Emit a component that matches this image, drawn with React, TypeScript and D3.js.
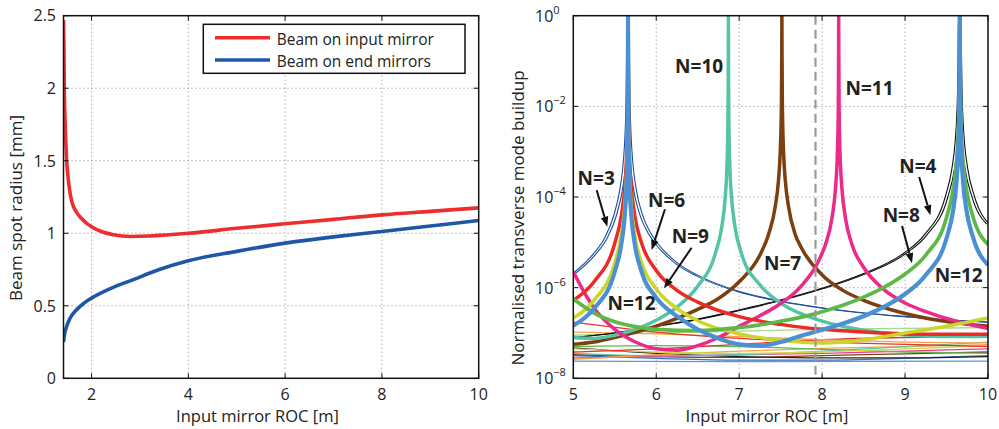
import React from 'react';
import * as d3 from 'd3';

type P = [number, number];

// ---------- Left panel data (ROC [m], radius [mm]) ----------
const INPUT_MIRROR: P[] = [
  [1.42, 2.47], [1.43, 2.25], [1.436, 2.0], [1.45, 1.8], [1.465, 1.65], [1.485, 1.5],
  [1.51, 1.4], [1.545, 1.3], [1.59, 1.22], [1.68, 1.15], [1.79, 1.103], [1.9, 1.068],
  [2.0, 1.045], [2.2, 1.012], [2.45, 0.99], [2.8, 0.978], [3.2, 0.981], [3.6, 0.99], [4, 1.0],
  [5, 1.034], [6, 1.065], [7, 1.096], [8, 1.127], [9, 1.151], [10, 1.175],
];
const END_MIRRORS: P[] = [
  [1.42, 0.25], [1.44, 0.3], [1.485, 0.358], [1.55, 0.41], [1.69, 0.473], [1.85, 0.52],
  [2.0, 0.553], [2.4, 0.62], [2.86, 0.68], [3.4, 0.75], [4, 0.81], [5, 0.875],
  [6, 0.932], [7, 0.975], [8, 1.012], [9, 1.05], [10, 1.088],
];
const LEFT_X_TICKS = [2, 4, 6, 8, 10];
const LEFT_Y_TICKS = [0, 0.5, 1, 1.5, 2, 2.5];
const LEGEND_LABELS = ['Beam on input mirror', 'Beam on end mirrors'];

// ---------- Right panel data (ROC [m], log10 buildup) ----------
const RIGHT_X_TICKS = [5, 6, 7, 8, 9, 10];
const RIGHT_Y_EXPONENTS = [0, -2, -4, -6, -8];
const OPERATING_ROC = 7.92;

const N3: P[] = [
  [5.0, -5.7], [5.25, -5.27], [5.4, -4.88], [5.5, -4.43], [5.58, -3.8], [5.62, -3.2], [5.64, -2.6],
  [5.65, -2.0], [5.657, -0.95], [5.66, 0], [5.663, -0.95], [5.67, -2.0], [5.68, -2.6], [5.7, -3.2],
  [5.74, -3.8], [5.82, -4.4], [5.9, -4.74], [6.0, -5.02], [6.25, -5.47], [6.5, -5.74], [7.0, -6.09],
  [7.5, -6.3], [8.0, -6.45], [8.5, -6.56], [9.0, -6.64], [9.5, -6.71], [10, -6.76],
];
const N4: P[] = [
  [5.0, -7.1], [5.5, -7.0], [6.0, -6.85], [6.5, -6.7], [7.0, -6.5], [7.5, -6.28], [8.0, -6.02],
  [8.5, -5.7], [9.0, -5.24], [9.25, -4.83], [9.5, -4.0], [9.58, -3.38], [9.62, -2.78], [9.64, -2.18],
  [9.65, -1.58], [9.655, -0.97], [9.66, 0], [9.665, -0.97], [9.67, -1.58], [9.68, -2.18], [9.7, -2.78],
  [9.74, -3.38], [9.82, -3.98], [10, -4.6],
];
const N6: P[] = [
  [5.0, -6.28], [5.25, -5.87], [5.5, -5.02], [5.58, -4.4], [5.62, -3.8], [5.64, -3.2], [5.65, -2.6],
  [5.655, -1.99], [5.6585, -0.95], [5.66, 0], [5.6615, -0.95], [5.665, -1.99], [5.67, -2.6], [5.68, -3.2],
  [5.7, -3.8], [5.74, -4.4], [5.82, -5.0], [6.0, -5.62], [6.25, -6.06], [6.5, -6.32], [7.0, -6.64],
  [7.5, -6.81], [8.0, -6.92], [8.5, -6.98], [9.0, -7.02], [9.5, -7.03], [10, -7.03],
];
const N7: P[] = [
  [5.0, -7.25], [5.25, -7.2], [5.5, -7.1], [6.0, -6.85], [6.25, -6.68], [6.5, -6.48], [6.75, -6.24],
  [7.0, -5.87], [7.25, -5.28], [7.355, -4.82], [7.435, -4.21], [7.475, -3.61], [7.495, -3.01],
  [7.505, -2.41], [7.51, -1.81], [7.5135, -0.76], [7.515, 0], [7.5165, -0.76], [7.52, -1.81],
  [7.525, -2.41], [7.535, -3.01], [7.555, -3.61], [7.595, -4.21], [7.675, -4.82], [7.75, -5.12],
  [8.0, -5.72], [8.25, -6.06], [8.5, -6.28], [9.0, -6.57], [9.5, -6.75], [10, -6.85],
];
const N8: P[] = [
  [5.0, -6.25], [5.25, -6.56], [5.5, -6.75], [5.75, -6.86], [6.0, -6.92], [6.5, -6.95], [7.0, -6.88],
  [7.25, -6.82], [7.5, -6.74], [7.75, -6.65], [8.0, -6.53], [8.25, -6.39], [8.5, -6.21], [8.75, -5.99],
  [9.0, -5.7], [9.25, -5.28], [9.5, -4.45], [9.58, -3.83], [9.62, -3.23], [9.64, -2.63], [9.65, -2.03],
  [9.655, -1.43], [9.6575, -0.82], [9.66, 0], [9.6625, -0.82], [9.665, -1.43], [9.67, -2.03],
  [9.68, -2.63], [9.7, -3.23], [9.74, -3.83], [9.82, -4.44], [10, -5.05],
];
const N9: P[] = [
  [5.0, -6.67], [5.25, -6.28], [5.5, -5.45], [5.58, -4.83], [5.62, -4.22], [5.64, -3.62], [5.65, -3.02],
  [5.655, -2.42], [5.6585, -1.37], [5.66, 0], [5.6615, -1.37], [5.665, -2.42], [5.67, -3.02], [5.68, -3.62],
  [5.7, -4.22], [5.74, -4.83], [5.82, -5.43], [6.0, -6.03], [6.25, -6.46], [6.5, -6.73], [7.0, -7.02],
  [7.5, -7.16], [8.0, -7.22], [8.5, -7.15], [9.0, -7.0], [9.5, -6.85], [10, -6.67],
];
const N10: P[] = [
  [5.0, -7.1], [5.25, -7.12], [5.5, -7.05], [5.75, -6.92], [6.0, -6.72], [6.25, -6.43], [6.5, -5.97],
  [6.71, -5.26], [6.79, -4.66], [6.83, -4.05], [6.85, -3.45], [6.86, -2.85], [6.865, -2.25],
  [6.8685, -1.2], [6.87, 0], [6.8715, -1.2], [6.875, -2.25], [6.88, -2.85], [6.89, -3.45], [6.91, -4.05],
  [6.95, -4.66], [7.03, -5.26], [7.25, -5.94], [7.5, -6.34], [7.75, -6.58], [8.0, -6.74], [8.5, -6.94],
  [9.0, -7.04], [9.5, -7.08], [10, -7.07],
];
const N11: P[] = [
  [5.0, -5.65], [5.1, -6.0], [5.25, -6.45], [5.5, -6.92], [5.75, -7.2], [6.0, -7.35], [6.25, -7.38],
  [6.5, -7.28], [6.75, -7.1], [7.0, -6.85], [7.25, -6.62], [7.5, -6.35], [7.75, -5.96], [8.0, -5.24],
  [8.04, -5.05], [8.12, -4.45], [8.16, -3.84], [8.18, -3.24], [8.19, -2.64], [8.195, -2.04],
  [8.1985, -0.99], [8.2, 0], [8.2015, -0.99], [8.205, -2.04], [8.21, -2.64], [8.22, -3.24], [8.24, -3.84],
  [8.28, -4.45], [8.36, -5.05], [8.5, -5.55], [8.75, -6.05], [9.0, -6.34], [9.25, -6.53], [9.5, -6.68],
  [10, -6.9],
];
const N12: P[] = [
  [5.0, -6.84], [5.25, -6.46], [5.5, -5.65], [5.58, -5.03], [5.62, -4.42], [5.64, -3.82], [5.65, -3.22],
  [5.655, -2.62], [5.6585, -1.57], [5.66, 0], [5.6615, -1.57], [5.665, -2.62], [5.67, -3.22], [5.68, -3.82],
  [5.7, -4.42], [5.74, -5.03], [5.82, -5.63], [6.0, -6.22], [6.25, -6.63], [6.5, -6.92], [6.75, -7.12],
  [7.0, -7.25], [7.25, -7.28], [7.5, -7.2], [7.75, -7.06], [8.0, -6.93], [8.25, -6.79], [8.5, -6.63],
  [8.75, -6.42], [9.0, -6.14], [9.25, -5.72], [9.5, -4.91], [9.58, -4.29], [9.62, -3.68], [9.64, -3.08],
  [9.65, -2.48], [9.655, -1.88], [9.6585, -0.83], [9.66, 0], [9.6615, -0.83], [9.665, -1.88], [9.67, -2.48],
  [9.68, -3.08], [9.7, -3.68], [9.74, -4.29], [9.82, -4.89], [10, -5.5],
];

// other (non-resonant) mode families near the floor
const FLOOR_RED_A: P[] = [[5, -6.76], [6, -6.98], [7, -7.12], [8, -7.2], [9, -7.25], [10, -7.3]];
const FLOOR_ORANGE_A: P[] = [[5, -6.98], [6, -7.02], [7, -7.08], [8, -7.15], [9, -7.2], [10, -7.22]];
const FLOOR_LIGHTGREEN: P[] = [[5, -7.05], [6, -7.0], [7, -6.96], [8, -6.92], [9, -6.9], [10, -6.88]];
const FLOOR_RED_B: P[] = [[5, -7.42], [6, -7.35], [7, -7.25], [8, -7.15], [9, -7.1], [10, -7.08]];
const FLOOR_YELLOW: P[] = [[5, -7.35], [6, -7.42], [7, -7.45], [8, -7.42], [9, -7.35], [10, -7.28]];
const FLOOR_GREEN: P[] = [[5, -7.3], [6, -7.28], [7, -7.3], [8, -7.36], [9, -7.42], [10, -7.45]];
const FLOOR_TEAL: P[] = [[5, -7.45], [6, -7.5], [7, -7.48], [8, -7.4], [9, -7.3], [10, -7.2]];
const FLOOR_PINK: P[] = [[5, -7.55], [6, -7.52], [7, -7.48], [8, -7.45], [9, -7.4], [10, -7.35]];
const FLOOR_BLUE: P[] = [[5, -7.5], [6, -7.56], [7, -7.6], [8, -7.6], [9, -7.56], [10, -7.5]];
const FLOOR_BLACK: P[] = [[5, -7.33], [6, -7.45], [7, -7.52], [8, -7.55], [9, -7.55], [10, -7.52]];
const FLOOR_BROWN: P[] = [[5, -7.48], [6, -7.52], [7, -7.54], [8, -7.5], [9, -7.46], [10, -7.42]];
const FLOOR_ORANGE_B: P[] = [[5, -7.58], [6, -7.48], [7, -7.4], [8, -7.34], [9, -7.3], [10, -7.26]];
const FLOOR_LIGHTBLUE: P[] = [[5, -7.62], [7, -7.63], [10, -7.62]];

const LABEL_TEXT = ['N=10', 'N=11', 'N=3', 'N=6', 'N=9', 'N=12', 'N=7', 'N=4', 'N=8', 'N=12'];
const LABEL_X = [6.517, 8.572, 5.276, 6.125, 6.412, 5.702, 7.524, 9.155, 8.954, 9.647];
const LABEL_Y = [-1.271, -1.749, -3.735, -4.213, -5.021, -6.493, -5.61, -3.476, -4.545, -5.868];

const ARROW_FROM: P[] = [[5.282, -3.85], [6.105, -4.27], [6.426, -5.12], [9.17, -3.56], [8.964, -4.64]];
const ARROW_TO: P[] = [[5.41, -4.655], [5.945, -5.17], [6.093, -6.014], [9.306, -4.4], [9.084, -5.462]];

// ---------- styles ----------
const FONT = "'Open Sans', 'Liberation Sans', Arial, sans-serif";

const FLOOR_STYLES = [
  { d: FLOOR_LIGHTBLUE, c: '#5a9ad6' },
  { d: FLOOR_BLUE, c: '#3d6fc0' },
  { d: FLOOR_BROWN, c: '#7b4215' },
  { d: FLOOR_BLACK, c: '#222222' },
  { d: FLOOR_PINK, c: '#ec3a93' },
  { d: FLOOR_ORANGE_B, c: '#f6a04d' },
  { d: FLOOR_TEAL, c: '#5cc4a8' },
  { d: FLOOR_GREEN, c: '#5db84a' },
  { d: FLOOR_YELLOW, c: '#d3d93a' },
  { d: FLOOR_RED_B, c: '#e8322b' },
  { d: FLOOR_LIGHTGREEN, c: '#a6d88e' },
  { d: FLOOR_ORANGE_A, c: '#f6a04d' },
  { d: FLOOR_RED_A, c: '#e8322b' },
];

const MODE_STYLES = [
  { d: N4, c: '#111111', w: 1.1, split: 0.016 },
  { d: N3, c: '#1f4e9c', w: 1.1, split: 0.016 },
  { d: N7, c: '#7b3f10', w: 3.5, split: 0 },
  { d: N10, c: '#55c4a5', w: 3.5, split: 0 },
  { d: N11, c: '#ec2a8a', w: 3.5, split: 0 },
  { d: N6, c: '#ed2b25', w: 3.5, split: 0 },
  { d: N9, c: '#cbd62a', w: 3.5, split: 0 },
  { d: N8, c: '#5cb946', w: 3.7, split: 0 },
  { d: N12, c: '#4b90d2', w: 4.2, split: 0 },
];

export default function App() {
  const L = { x0: 63.5, x1: 478.7, y0: 15.7, y1: 378.3 };
  const R = { x0: 573.3, x1: 988, y0: 15.7, y1: 378.3 };

  const lx = d3.scaleLinear().domain([1.42, 10]).range([L.x0, L.x1]);
  const ly = d3.scaleLinear().domain([0, 2.5]).range([L.y1, L.y0]);
  const rx = d3.scaleLinear().domain([5, 10]).range([R.x0, R.x1]);
  const ry = d3.scaleLinear().domain([-8, 0]).range([R.y1, R.y0]);

  const leftLine = d3.line<P>().x(d => lx(d[0])).y(d => ly(d[1])).curve(d3.curveMonotoneX);
  const rightLine = (off: number) =>
    d3.line<P>().x(d => rx(d[0] + off)).y(d => ry(d[1])).curve(d3.curveMonotoneX);

  const tick = 5;
  const gridStyle = { stroke: '#8a8a8a', strokeWidth: 1, strokeDasharray: '1,3' };
  const tickY = 399.5;
  const labelY = 422;

  return (
    <svg width={999} height={429} style={{ position: 'absolute', left: 0, top: 0, background: '#fff' }}
      fontFamily={FONT}>
      <defs>
        <clipPath id="clipL"><rect x={L.x0} y={L.y0} width={L.x1 - L.x0} height={L.y1 - L.y0} /></clipPath>
        <clipPath id="clipR"><rect x={R.x0} y={R.y0} width={R.x1 - R.x0} height={R.y1 - R.y0} /></clipPath>
      </defs>
      <rect x={0} y={0} width={999} height={429} fill="#fff" />

      {/* ---------------- Left panel ---------------- */}
      {LEFT_X_TICKS.filter(t => t < 10).map(t => (
        <line key={'lgx' + t} x1={lx(t)} x2={lx(t)} y1={L.y0} y2={L.y1} {...gridStyle} />
      ))}
      {LEFT_Y_TICKS.filter(t => t > 0 && t < 2.5).map(t => (
        <line key={'lgy' + t} x1={L.x0} x2={L.x1} y1={ly(t)} y2={ly(t)} {...gridStyle} />
      ))}
      <g clipPath="url(#clipL)">
        <path d={leftLine(END_MIRRORS) || ''} fill="none" stroke="#1f57a8" strokeWidth={3.6} />
        <path d={leftLine(INPUT_MIRROR) || ''} fill="none" stroke="#ee2e2e" strokeWidth={3.6} />
      </g>
      <rect x={L.x0} y={L.y0} width={L.x1 - L.x0} height={L.y1 - L.y0} fill="none" stroke="#111" strokeWidth={1.5} />
      {LEFT_X_TICKS.map(t => (
        <g key={'ltx' + t}>
          <line x1={lx(t)} x2={lx(t)} y1={L.y1} y2={L.y1 - tick} stroke="#111" strokeWidth={1} />
          <line x1={lx(t)} x2={lx(t)} y1={L.y0} y2={L.y0 + tick} stroke="#111" strokeWidth={1} />
          <text x={lx(t)} y={tickY} textAnchor="middle" fontSize={16} fill="#222">{t}</text>
        </g>
      ))}
      {LEFT_Y_TICKS.map(t => (
        <g key={'lty' + t}>
          <line x1={L.x0} x2={L.x0 + tick} y1={ly(t)} y2={ly(t)} stroke="#111" strokeWidth={1} />
          <line x1={L.x1} x2={L.x1 - tick} y1={ly(t)} y2={ly(t)} stroke="#111" strokeWidth={1} />
          <text x={56} y={ly(t)} dy="0.36em" textAnchor="end" fontSize={16} fill="#222">{t}</text>
        </g>
      ))}
      <text x={257.5} y={labelY} textAnchor="middle" fontSize={16.5} fill="#222">Input mirror ROC [m]</text>
      <text transform="translate(22,208) rotate(-90)" textAnchor="middle" fontSize={17} fill="#222">Beam spot radius [mm]</text>

      {/* legend */}
      <rect x={203.3} y={24.3} width={261.7} height={49} fill="#fff" stroke="#111" strokeWidth={1.5} />
      <line x1={215} x2={270} y1={37.7} y2={37.7} stroke="#ee2e2e" strokeWidth={3.6} />
      <line x1={215} x2={270} y1={60} y2={60} stroke="#1f57a8" strokeWidth={3.6} />
      <text x={276.7} y={44.5} fontSize={15.5} fill="#222">{LEGEND_LABELS[0]}</text>
      <text x={276.7} y={66.5} fontSize={15.5} fill="#222">{LEGEND_LABELS[1]}</text>

      {/* ---------------- Right panel ---------------- */}
      {RIGHT_X_TICKS.filter(t => t > 5 && t < 10).map(t => (
        <line key={'rgx' + t} x1={rx(t)} x2={rx(t)} y1={R.y0} y2={R.y1} {...gridStyle} />
      ))}
      {RIGHT_Y_EXPONENTS.filter(e => e < 0 && e > -8).map(e => (
        <line key={'rgy' + e} x1={R.x0} x2={R.x1} y1={ry(e)} y2={ry(e)} {...gridStyle} />
      ))}
      <g clipPath="url(#clipR)" fill="none" strokeLinejoin="round">
        {FLOOR_STYLES.map((s, i) => (
          <path key={'fl' + i} d={rightLine(0)(s.d) || ''} stroke={s.c} strokeWidth={1.3} />
        ))}
        {MODE_STYLES.map((s, i) =>
          s.split > 0 ? (
            <g key={'m' + i}>
              <path d={rightLine(-s.split)(s.d) || ''} stroke={s.c} strokeWidth={s.w} />
              <path d={rightLine(s.split)(s.d) || ''} stroke={s.c} strokeWidth={s.w} />
            </g>
          ) : (
            <path key={'m' + i} d={rightLine(0)(s.d) || ''} stroke={s.c} strokeWidth={s.w} />
          )
        )}
        <line x1={rx(OPERATING_ROC)} x2={rx(OPERATING_ROC)} y1={R.y0} y2={R.y1}
          stroke="#9a9a9a" strokeWidth={2.2} strokeDasharray="9,5" />
      </g>
      <rect x={R.x0} y={R.y0} width={R.x1 - R.x0} height={R.y1 - R.y0} fill="none" stroke="#111" strokeWidth={1.5} />
      {RIGHT_X_TICKS.map(t => (
        <g key={'rtx' + t}>
          <line x1={rx(t)} x2={rx(t)} y1={R.y1} y2={R.y1 - tick} stroke="#111" strokeWidth={1} />
          <line x1={rx(t)} x2={rx(t)} y1={R.y0} y2={R.y0 + tick} stroke="#111" strokeWidth={1} />
          <text x={rx(t)} y={tickY} textAnchor="middle" fontSize={16} fill="#222">{t}</text>
        </g>
      ))}
      {RIGHT_Y_EXPONENTS.map(e => (
        <g key={'rty' + e}>
          <line x1={R.x0} x2={R.x0 + tick} y1={ry(e)} y2={ry(e)} stroke="#111" strokeWidth={1} />
          <line x1={R.x1} x2={R.x1 - tick} y1={ry(e)} y2={ry(e)} stroke="#111" strokeWidth={1} />
          <text x={535} y={ry(e) + 6} fontSize={16} fill="#222">
            10<tspan dy={-8} fontSize={11}>{e === 0 ? '0' : '\u2212' + Math.abs(e)}</tspan>
          </text>
        </g>
      ))}
      <text x={767} y={labelY} textAnchor="middle" fontSize={16.5} fill="#222">Input mirror ROC [m]</text>
      <text transform="translate(524,218) rotate(-90)" textAnchor="middle" fontSize={17} fill="#222">Normalised transverse mode buildup</text>

      {/* annotations */}
      {ARROW_FROM.map((f, i) => {
        const x1 = rx(f[0]), y1 = ry(f[1]);
        const x2 = rx(ARROW_TO[i][0]), y2 = ry(ARROW_TO[i][1]);
        const a = Math.atan2(y2 - y1, x2 - x1);
        const hl = 10, hw = 3.8;
        const bx = x2 - hl * Math.cos(a), by = y2 - hl * Math.sin(a);
        const pts = [
          [x2, y2],
          [bx + hw * Math.sin(a), by - hw * Math.cos(a)],
          [bx - hw * Math.sin(a), by + hw * Math.cos(a)],
        ].map(p => p.join(',')).join(' ');
        return (
          <g key={'ar' + i}>
            <line x1={x1} y1={y1} x2={bx} y2={by} stroke="#111" strokeWidth={2} />
            <polygon points={pts} fill="#111" />
          </g>
        );
      })}
      {LABEL_TEXT.map((t, i) => (
        <text key={'lb' + i} x={rx(LABEL_X[i])} y={ry(LABEL_Y[i])} textAnchor="middle"
          fontSize={19} fontWeight="bold" fill="#222">{t}</text>
      ))}
    </svg>
  );
}
